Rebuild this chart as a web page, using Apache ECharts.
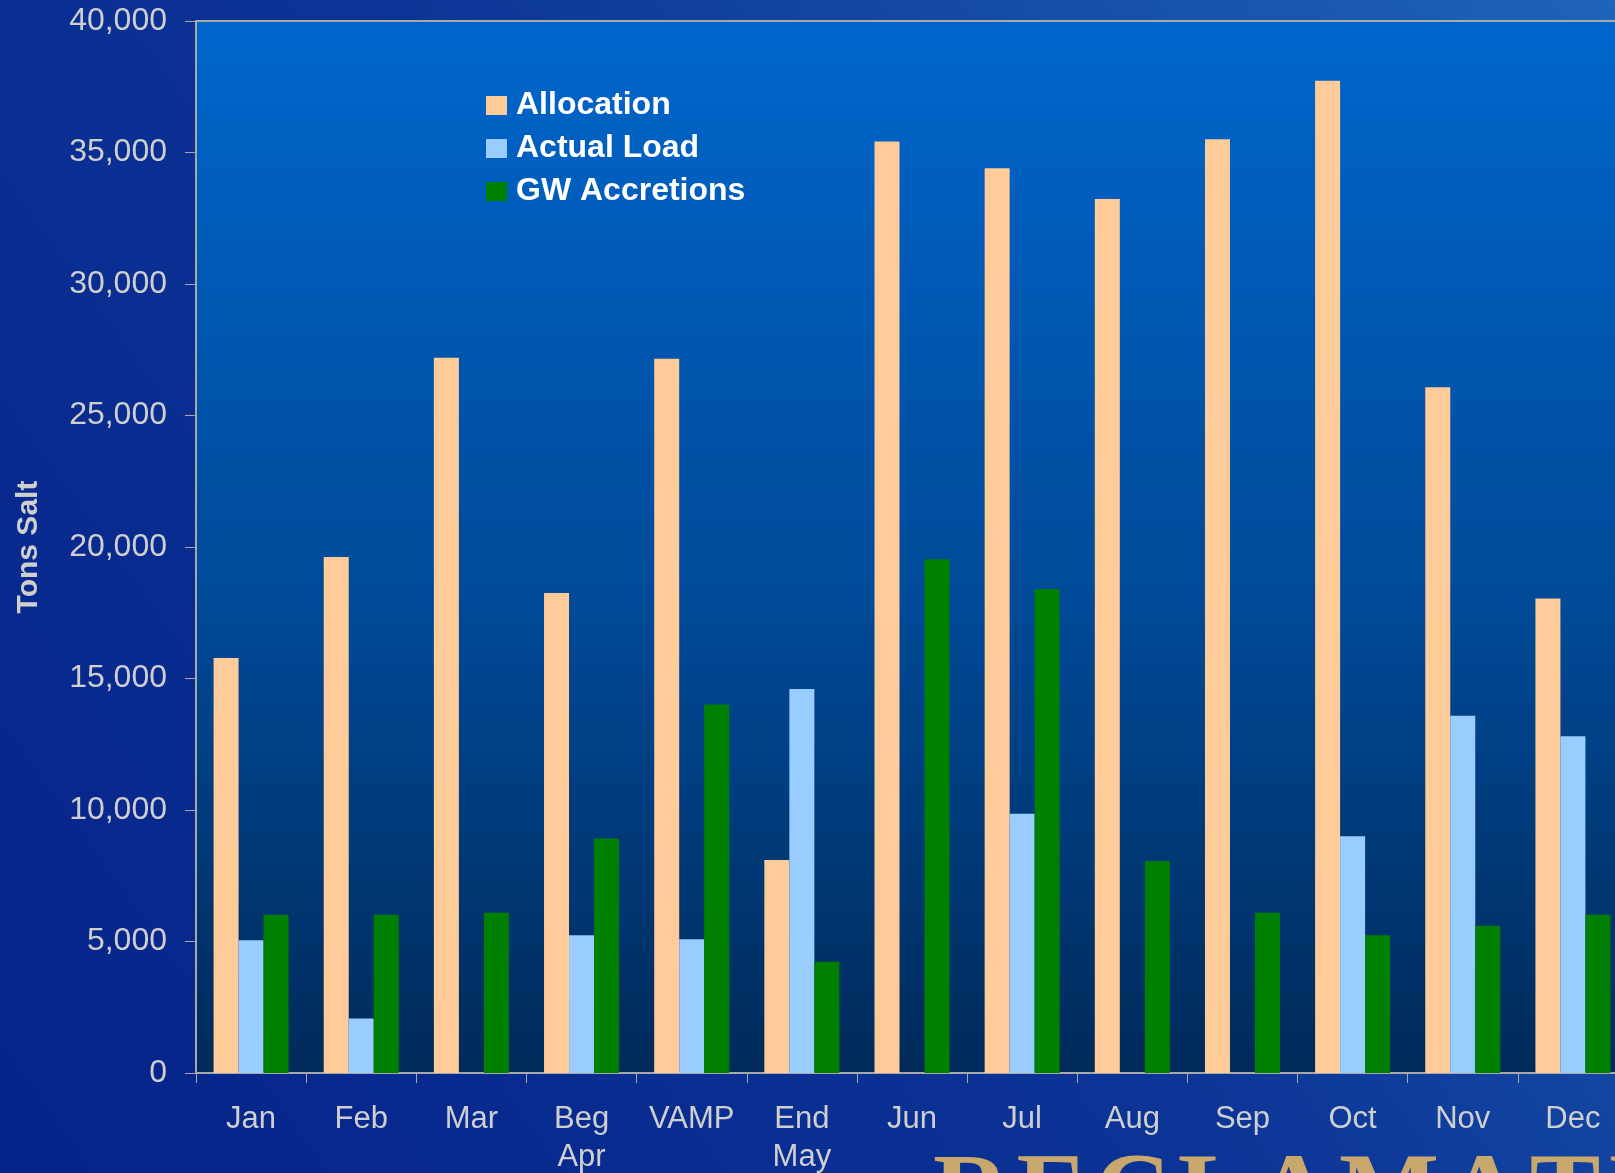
<!DOCTYPE html>
<html>
<head>
<meta charset="utf-8">
<title>Tons Salt by Period</title>
<script src="https://cdn.jsdelivr.net/npm/echarts@6/dist/echarts.min.js"></script>
<style>
  html, body { margin: 0; padding: 0; background: #0a2c8e; overflow: hidden; }
  #chart { width: 1615px; height: 1173px; }
</style>
</head>
<body>
<div id="chart"></div>
<script>
// Periods along the x axis
const categories = ['Jan', 'Feb', 'Mar', 'Beg\nApr', 'VAMP', 'End\nMay', 'Jun', 'Jul', 'Aug', 'Sep', 'Oct', 'Nov', 'Dec'];

// Salt loads in tons (null = no value reported)
const allocation   = [15780, 19620, 27200, 18250, 27160, 8100, 35420, 34400, 33230, 35500, 37730, 26070, 18040];
const actualLoad   = [5050, 2070, null, 5240, 5090, 14600, null, 9860, null, null, 9000, 13580, 12800];
const gwAccretions = [6020, 6020, 6090, 8920, 14010, 4230, 19530, 18400, 8060, 6090, 5240, 5600, 6020];

const seriesNames = ['Allocation', 'Actual Load', 'GW Accretions'];
const seriesColors = ['#FFCC99', '#99CCFF', '#008000'];

// Value axis settings
const yMin = 0, yMax = 40000, yStep = 5000;

// Letter-spaced wordmark along the bottom edge
const wordmark = 'RECLAMATION';
const spacedWordmark = wordmark.split('').join('{gap| }');

const chart = echarts.init(document.getElementById('chart'), null, { renderer: 'canvas' });

const axisGray = '#A8A8A8';
const labelColor = '#CFCFCF';
const fontFamily = '"Liberation Sans", Arial, sans-serif';

chart.setOption({
  backgroundColor: new echarts.graphic.LinearGradient(0, 1, 1, 0, [
    { offset: 0, color: '#06238A' },
    { offset: 0.5, color: '#0C3496' },
    { offset: 1, color: '#1E64B8' }
  ]),
  animation: false,
  textStyle: { fontFamily: fontFamily },
  // the plot area runs slightly past the right edge of the page
  grid: {
    left: 196,
    top: 21,
    width: 1432,
    height: 1052,
    outerBoundsMode: 'none',
    containLabel: false,
    show: true,
    borderColor: axisGray,
    borderWidth: 2,
    backgroundColor: new echarts.graphic.LinearGradient(0, 0, 0, 1, [
      { offset: 0, color: '#0066CC' },
      { offset: 0.55, color: '#004A98' },
      { offset: 1, color: '#002A5A' }
    ])
  },
  legend: {
    orient: 'vertical',
    left: 481,
    top: 84,
    itemWidth: 21,
    itemHeight: 19,
    itemGap: 10,
    icon: 'rect',
    data: seriesNames,
    textStyle: {
      color: '#FFFFFF',
      fontWeight: 'bold',
      fontSize: 32,
      lineHeight: 33,
      padding: [0, 0, 0, 4]
    }
  },
  xAxis: {
    type: 'category',
    data: categories,
    axisLine: { lineStyle: { color: axisGray, width: 2 } },
    axisTick: { show: true, length: 10, lineStyle: { color: axisGray, width: 1 } },
    axisLabel: {
      color: labelColor,
      fontSize: 31,
      lineHeight: 38,
      margin: 27,
      interval: 0
    }
  },
  yAxis: {
    type: 'value',
    min: yMin,
    max: yMax,
    interval: yStep,
    name: 'Tons Salt',
    nameLocation: 'middle',
    nameGap: 152,
    nameRotate: 90,
    nameTextStyle: { color: labelColor, fontWeight: 'bold', fontSize: 30 },
    axisLine: { show: true, lineStyle: { color: axisGray, width: 2 } },
    axisTick: { show: true, length: 11, lineStyle: { color: axisGray, width: 1 } },
    splitLine: { show: false },
    axisLabel: {
      color: labelColor,
      fontSize: 32,
      margin: 29,
      formatter: v => v.toLocaleString('en-US')
    }
  },
  series: [
    { name: seriesNames[0], type: 'bar', data: allocation, barWidth: 25, barGap: '0%', itemStyle: { color: seriesColors[0] } },
    { name: seriesNames[1], type: 'bar', data: actualLoad, barWidth: 25, barGap: '0%', itemStyle: { color: seriesColors[1] } },
    { name: seriesNames[2], type: 'bar', data: gwAccretions, barWidth: 25, barGap: '0%', itemStyle: { color: seriesColors[2] } }
  ],
  graphic: [
    {
      type: 'text',
      left: 933,
      top: 1146,
      z: -1,
      style: {
        text: spacedWordmark,
        fill: '#C9A86E',
        font: 'bold 106px "Liberation Serif", "Times New Roman", serif',
        rich: {
          gap: { font: '28px "Liberation Serif", serif' }
        }
      }
    }
  ]
});
</script>
</body>
</html>
